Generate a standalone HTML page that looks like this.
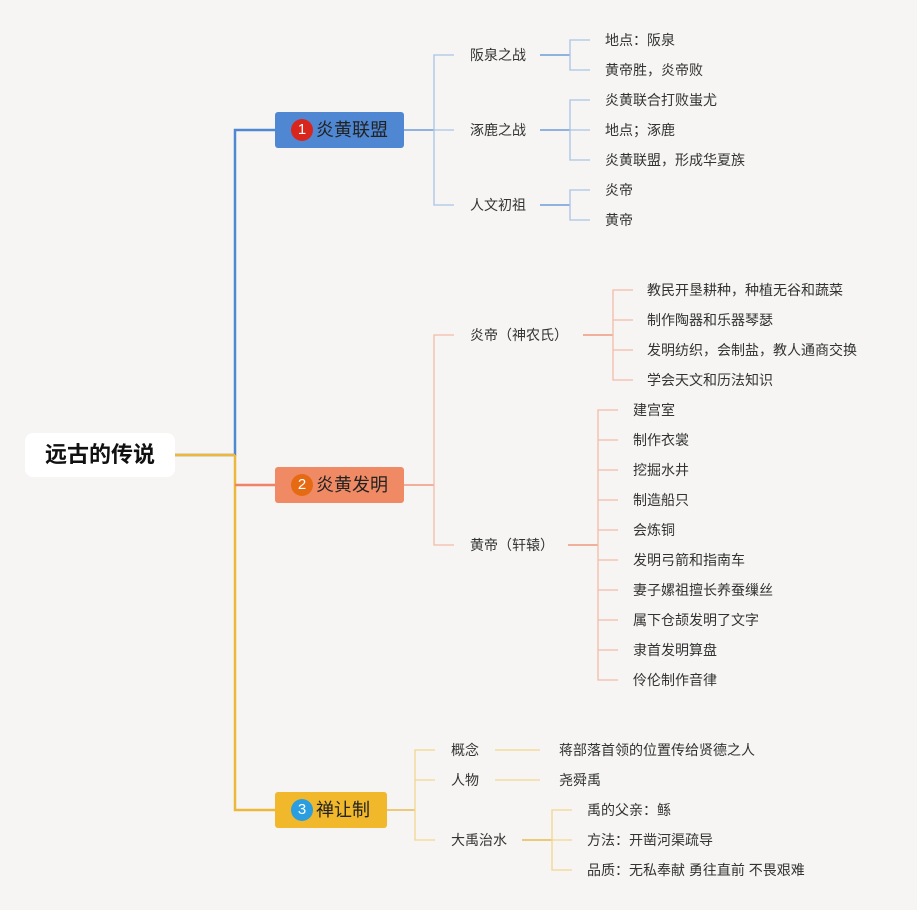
<!DOCTYPE html>
<html><head><meta charset="utf-8"><style>
body{margin:0;width:917px;height:910px;background:#f6f5f3;position:relative;overflow:hidden;font-family:"Liberation Sans","Noto Sans CJK SC",sans-serif;}
.t{position:absolute;font-size:14px;color:#333;line-height:20px;white-space:nowrap;transform:translateY(-10px);}
.b{position:absolute;height:36px;border-radius:3px;font-size:18px;color:#222;line-height:36px;box-sizing:border-box;padding-left:16px;}
.c{display:inline-block;width:22px;height:22px;border-radius:11px;color:#fff;font-size:15px;line-height:22px;text-align:center;vertical-align:middle;margin-right:3px;margin-top:-3px;}
</style></head><body>
<svg width="917" height="910" style="position:absolute;left:0;top:0" fill="none">
<g stroke-width="2.5">
<path d="M175 455H235V130H275" stroke="#4f87d2"/>
<path d="M235 455V810H275" stroke="#ecb83c"/>
<path d="M175 455H235" stroke="#ecb83c"/>
<path d="M235 485H275" stroke="#ee8466"/>
</g>
<g stroke="#6f9bd8" stroke-width="1.5"><path d="M404 130H434M540 55H570M540 130H570M540 205H570"/></g>
<g stroke="#a9c3e6" stroke-width="1.3"><path d="M454 55H434V205H454M434 130H454M590 40H570V70H590M590 100H570V160H590M570 130H590M590 190H570V220H590"/></g>
<g stroke="#ee9a80" stroke-width="1.5"><path d="M404 485H434M583 335H613M568 545H598"/></g>
<g stroke="#f4bca8" stroke-width="1.3"><path d="M454 335H434V545H454M633 290H613V380H633M613 320H633M613 350H633M618 410H598V680H618M598 440H618M598 470H618M598 500H618M598 530H618M598 560H618M598 590H618M598 620H618M598 650H618"/></g>
<g stroke="#e8bc52" stroke-width="1.5"><path d="M387 810H415M522 840H552"/></g>
<g stroke="#f2d690" stroke-width="1.3"><path d="M435 750H415V840H435M415 780H435M495 750H540M495 780H540M572 810H552V870H572M552 840H572"/></g>
</svg>
<div style="position:absolute;left:25px;top:433px;width:150px;height:44px;background:#fff;border-radius:8px;font-size:22px;font-weight:bold;line-height:44px;text-align:center;color:#111;">远古的传说</div>
<div class="b" style="left:275px;top:112px;width:129px;background:#4f87d2;"><span class="c" style="background:#d9261c">1</span>炎黄联盟</div>
<div class="b" style="left:275px;top:467px;width:129px;background:#f08a64;"><span class="c" style="background:#e66a12">2</span>炎黄发明</div>
<div class="b" style="left:275px;top:792px;width:112px;background:#f0b82a;"><span class="c" style="background:#2a9ee0">3</span>禅让制</div>
<div class="t" style="left:470px;top:55px">阪泉之战</div>
<div class="t" style="left:470px;top:130px">涿鹿之战</div>
<div class="t" style="left:470px;top:205px">人文初祖</div>
<div class="t" style="left:605px;top:40px">地点：阪泉</div>
<div class="t" style="left:605px;top:70px">黄帝胜，炎帝败</div>
<div class="t" style="left:605px;top:100px">炎黄联合打败蚩尤</div>
<div class="t" style="left:605px;top:130px">地点；涿鹿</div>
<div class="t" style="left:605px;top:160px">炎黄联盟，形成华夏族</div>
<div class="t" style="left:605px;top:190px">炎帝</div>
<div class="t" style="left:605px;top:220px">黄帝</div>
<div class="t" style="left:470px;top:335px">炎帝（神农氏）</div>
<div class="t" style="left:470px;top:545px">黄帝（轩辕）</div>
<div class="t" style="left:647px;top:290px">教民开垦耕种，种植无谷和蔬菜</div>
<div class="t" style="left:647px;top:320px">制作陶器和乐器琴瑟</div>
<div class="t" style="left:647px;top:350px">发明纺织，会制盐，教人通商交换</div>
<div class="t" style="left:647px;top:380px">学会天文和历法知识</div>
<div class="t" style="left:633px;top:410px">建宫室</div>
<div class="t" style="left:633px;top:440px">制作衣裳</div>
<div class="t" style="left:633px;top:470px">挖掘水井</div>
<div class="t" style="left:633px;top:500px">制造船只</div>
<div class="t" style="left:633px;top:530px">会炼铜</div>
<div class="t" style="left:633px;top:560px">发明弓箭和指南车</div>
<div class="t" style="left:633px;top:590px">妻子嫘祖擅长养蚕缫丝</div>
<div class="t" style="left:633px;top:620px">属下仓颉发明了文字</div>
<div class="t" style="left:633px;top:650px">隶首发明算盘</div>
<div class="t" style="left:633px;top:680px">伶伦制作音律</div>
<div class="t" style="left:451px;top:750px">概念</div>
<div class="t" style="left:451px;top:780px">人物</div>
<div class="t" style="left:451px;top:840px">大禹治水</div>
<div class="t" style="left:559px;top:750px">蒋部落首领的位置传给贤德之人</div>
<div class="t" style="left:559px;top:780px">尧舜禹</div>
<div class="t" style="left:587px;top:810px">禹的父亲：鲧</div>
<div class="t" style="left:587px;top:840px">方法：开凿河渠疏导</div>
<div class="t" style="left:587px;top:870px">品质：无私奉献 勇往直前 不畏艰难</div>
</body></html>
